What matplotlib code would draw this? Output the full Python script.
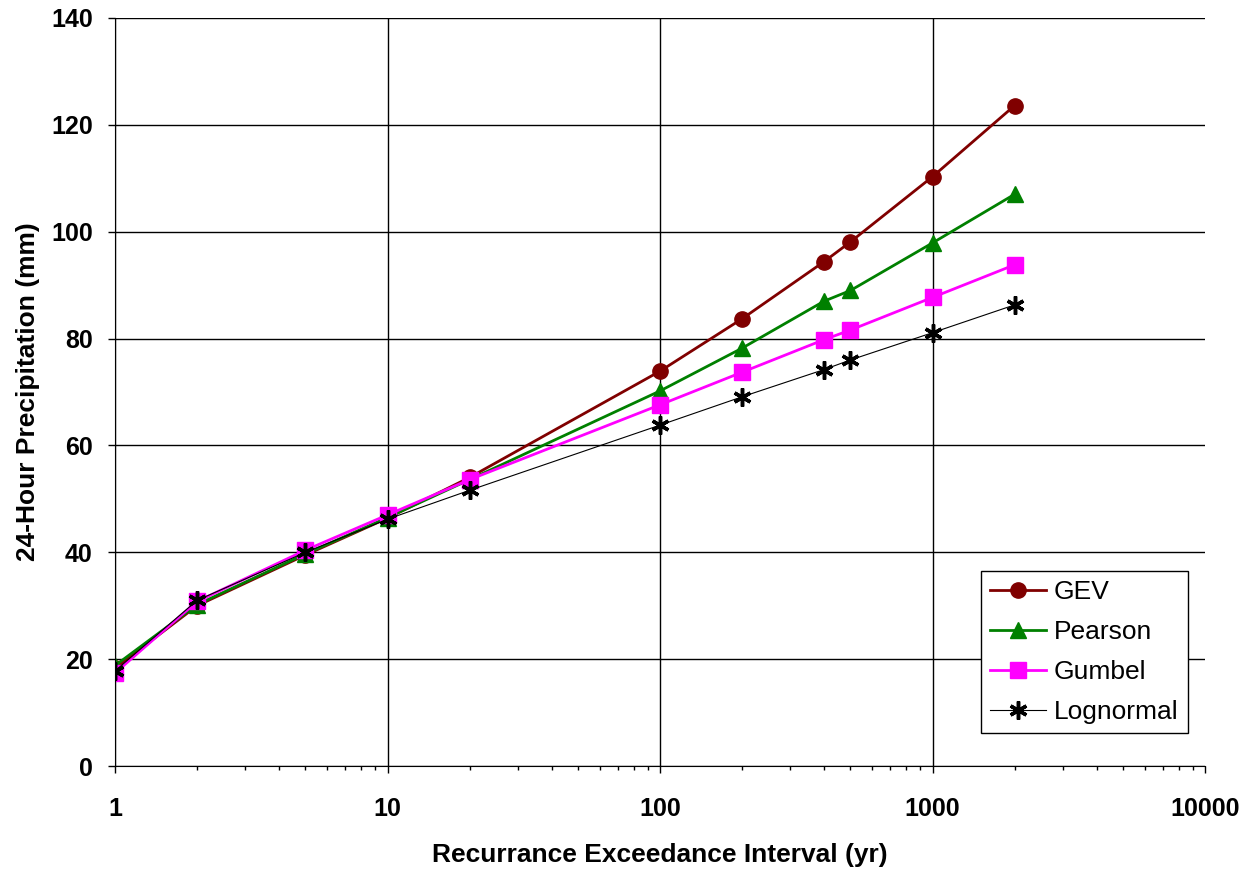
import numpy as np
from matplotlib import pyplot as plt

plt.rcParams['font.family'] = ['Liberation Sans', 'DejaVu Sans']

years = [1, 2, 5, 10, 20, 100, 200, 400, 500, 1000, 2000]
gev = [18.3, 30.0, 39.5, 46.4, 54.0, 73.9, 83.7, 94.4, 98.1, 110.3, 123.6]
pearson = [18.8, 30.2, 39.7, 46.5, 53.6, 70.2, 78.2, 87.0, 89.0, 97.9, 107.0]
gumbel = [17.4, 30.8, 40.4, 47.0, 53.6, 67.6, 73.7, 79.8, 81.6, 87.7, 93.8]
lognormal = [17.8, 31.0, 40.0, 46.2, 51.6, 63.8, 69.1, 74.2, 76.0, 81.1, 86.3]

fig = plt.figure(figsize=(12.53, 8.69), dpi=100)
ax = fig.add_axes([0.0918, 0.1185, 0.8699, 0.8608])

ax.plot(years, gev, color='#800000', lw=2, marker='o', ms=11, label='GEV')
ax.plot(years, pearson, color='#008000', lw=2, marker='^', ms=11, label='Pearson')
ax.plot(years, gumbel, color='#ff00ff', lw=2, marker='s', ms=11, label='Gumbel')
ax.plot(years, lognormal, color='black', lw=0.8, marker=(6, 2, 0), ms=13, mew=2.5,
        label='Lognormal')

ax.set_xscale('log')
ax.set_xlim(1, 10000)
ax.set_ylim(0, 140)
ax.set_yticks(range(0, 141, 20))
ax.set_xticks([1, 10, 100, 1000, 10000])
ax.set_xticklabels(['1', '10', '100', '1000', '10000'])
ax.grid(True, which='major', color='black', lw=1)
ax.tick_params(which='major', direction='out', length=5, labelsize=18, width=1)
ax.tick_params(axis='x', which='major', pad=17)
ax.tick_params(axis='y', which='major', pad=11)
ax.tick_params(which='minor', direction='out', length=3, width=1)
for lab in ax.get_xticklabels() + ax.get_yticklabels():
    lab.set_fontweight('bold')
for s in ['top', 'right']:
    ax.spines[s].set_visible(False)
# no grid line on the right edge
ax.xaxis.get_gridlines()[-1].set_visible(False)

ax.set_xlabel('Recurrance Exceedance Interval (yr)', fontsize=19, fontweight='bold', labelpad=16)
ax.set_ylabel('24-Hour Precipitation (mm)', fontsize=19, fontweight='bold', labelpad=8)

leg = ax.legend(loc='lower right', bbox_to_anchor=(0.984, 0.044), borderaxespad=0,
                fontsize=19, frameon=True, fancybox=False, edgecolor='black', framealpha=1,
                handlelength=2.1, borderpad=0.35, labelspacing=0.6, handletextpad=0.3)
leg.get_frame().set_linewidth(1)

fig.savefig('out.png', dpi=100)
